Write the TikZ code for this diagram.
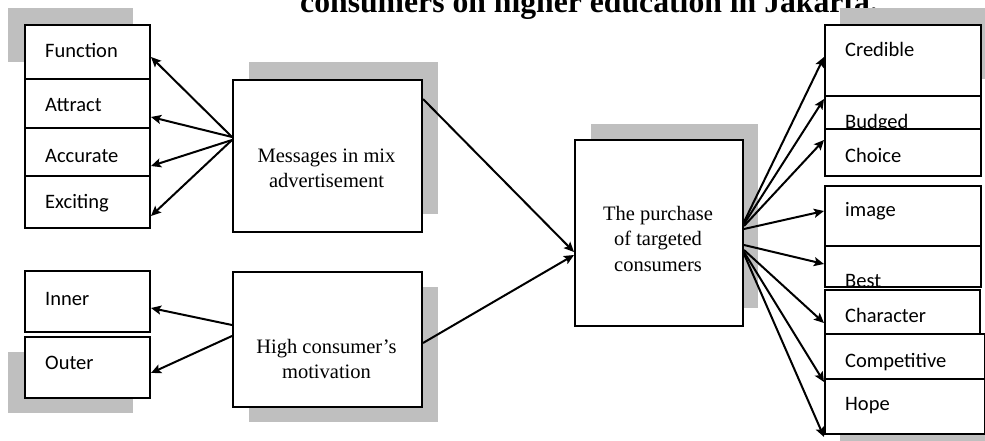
\documentclass[tikz,border=0pt]{standalone}
\usepackage{fontspec}
\setmainfont{Liberation Serif}
\newfontfamily\lblfont{Carlito}
\usetikzlibrary{arrows.meta}
\definecolor{shadowgray}{HTML}{BFBFBF}
\begin{document}
\begin{tikzpicture}[x=1pt,y=-1pt,
  bx/.style={draw, line width=2pt, fill=white, inner sep=0pt, anchor=north west},
  lbl/.style={font=\lblfont\fontsize{20.5}{24}\selectfont, anchor=base west, inner sep=0pt},
  srf/.style={font=\fontsize{20.5}{25.5}\selectfont, anchor=base, inner sep=0pt},
  arr/.style={line width=2pt, -{Stealth[length=10pt,width=9pt,inset=2pt]}},
]
\useasboundingbox (0,0) rectangle (985,441);

% title (cut at top)
\node[font=\bfseries\fontsize{31.7}{36}\selectfont, anchor=base west, inner sep=0pt] (title) at (300,13) {consumers on higher education in Jakarta.};

% shadows
\fill[shadowgray] (8,8) rectangle (133,62);
\fill[shadowgray] (8,352) rectangle (133,413);
\fill[shadowgray] (249,62) rectangle (438,214);
\fill[shadowgray] (249,287) rectangle (438,422);
\fill[shadowgray] (591,124) rectangle (758,308);
\fill[shadowgray] (840,8) rectangle (996,79);
\fill[shadowgray] (840,395) rectangle (1000,441);

% left column
\node[bx, minimum width=125pt, minimum height=54pt] (func) at (24,24) {};
\node[bx, minimum width=125pt, minimum height=49pt] (attr) at (24,78) {};
\node[bx, minimum width=125pt, minimum height=48pt] (accu) at (24,127) {};
\node[bx, minimum width=125pt, minimum height=52pt] (exci) at (24,175) {};
\node[bx, minimum width=125pt, minimum height=61pt] (inner) at (24,270) {};
\node[bx, minimum width=125pt, minimum height=61pt] (outer) at (24,336) {};
\node[lbl] (funclbl) at (45,58) {Function};
\node[lbl] (attrlbl) at (45,112) {Attract};
\node[lbl] (acculbl) at (45,163) {Accurate};
\node[lbl] (excilbl) at (45,208) {Exciting};
\node[lbl] (innerlbl) at (45,305) {Inner};
\node[lbl] (outerlbl) at (45,369) {Outer};

% middle
\node[bx, minimum width=189pt, minimum height=152pt] (msg) at (232,79) {};
\node[bx, minimum width=189pt, minimum height=135pt] (high) at (232,271) {};
\node[bx, minimum width=168pt, minimum height=186pt] (cent) at (574,139) {};
\node[srf] (msglbl) at (326.5,162) {\begin{tabular}[t]{@{}c@{}}Messages in mix\\advertisement\end{tabular}};
\node[srf] (highlbl) at (326.5,353) {\begin{tabular}[t]{@{}c@{}}High consumer’s\\motivation\end{tabular}};
\node[srf] (centlbl) at (658,220) {\begin{tabular}[t]{@{}c@{}}The purchase\\of targeted\\consumers\end{tabular}};

% right column
\node[bx, minimum width=156pt, minimum height=71pt] (cred) at (824,24) {};
\node[lbl] (credlbl) at (845,57) {Credible};
\node[bx, minimum width=156pt, minimum height=45pt] (budg) at (824,95) {};
\node[lbl] (budglbl) at (845,129) {Budged};
\node[bx, minimum width=156pt, minimum height=47pt] (choi) at (824,128) {};
\node[lbl] (choilbl) at (845,162) {Choice};
\node[bx, minimum width=156pt, minimum height=60pt] (imag) at (824,185) {};
\node[lbl] (imaglbl) at (845,216) {image};
\node[bx, minimum width=156pt, minimum height=41pt] (best) at (824,245) {};
\begin{scope}
  \clip (best.north west) rectangle (best.south east);
  \node[lbl] (bestlbl) at (845,287) {Best};
\end{scope}
\node[bx, minimum width=155pt, minimum height=56pt] (char) at (824,289) {};
\node[lbl] (charlbl) at (845,322) {Character};
\node[bx, minimum width=160pt, minimum height=45pt] (comp) at (824,333) {};
\node[lbl] (complbl) at (845,367) {Competitive};
\node[bx, minimum width=160pt, minimum height=55pt] (hope) at (824,378) {};
\node[lbl] (hopelbl) at (845,410) {Hope};

% connectors
\draw[arr] (msg.west |- 0,137) -- (func.east |- 0,57);
\draw[arr] (msg.west |- 0,137) -- (attr.east |- 0,117);
\draw[arr] (msg.west |- 0,140) -- (accu.east |- 0,166);
\draw[arr] (msg.west |- 0,140) -- (exci.east |- 0,216);
\draw[arr] (high.west |- 0,325) -- (inner.east |- 0,308);
\draw[arr] (high.west |- 0,336) -- (outer.east |- 0,373);
\draw[arr] (msg.east |- 0,99) -- (cent.west |- 0,252);
\draw[arr] (high.east |- 0,343) -- (cent.west |- 0,255);
\draw[arr] (cent.east |- 0,222) -- (cred.west |- 0,57);
\draw[arr] (cent.east |- 0,224) -- (budg.west |- 0,99);
\draw[arr] (cent.east |- 0,226) -- (choi.west |- 0,140);
\draw[arr] (cent.east |- 0,229) -- (imag.west |- 0,211);
\draw[arr] (cent.east |- 0,245) -- (best.west |- 0,264);
\draw[arr] (cent.east |- 0,250) -- (char.west |- 0,323);
\draw[arr] (cent.east |- 0,252) -- (comp.west |- 0,382);
\draw[arr] (cent.east |- 0,254) -- (hope.west |- 0,437);
\end{tikzpicture}
\end{document}
